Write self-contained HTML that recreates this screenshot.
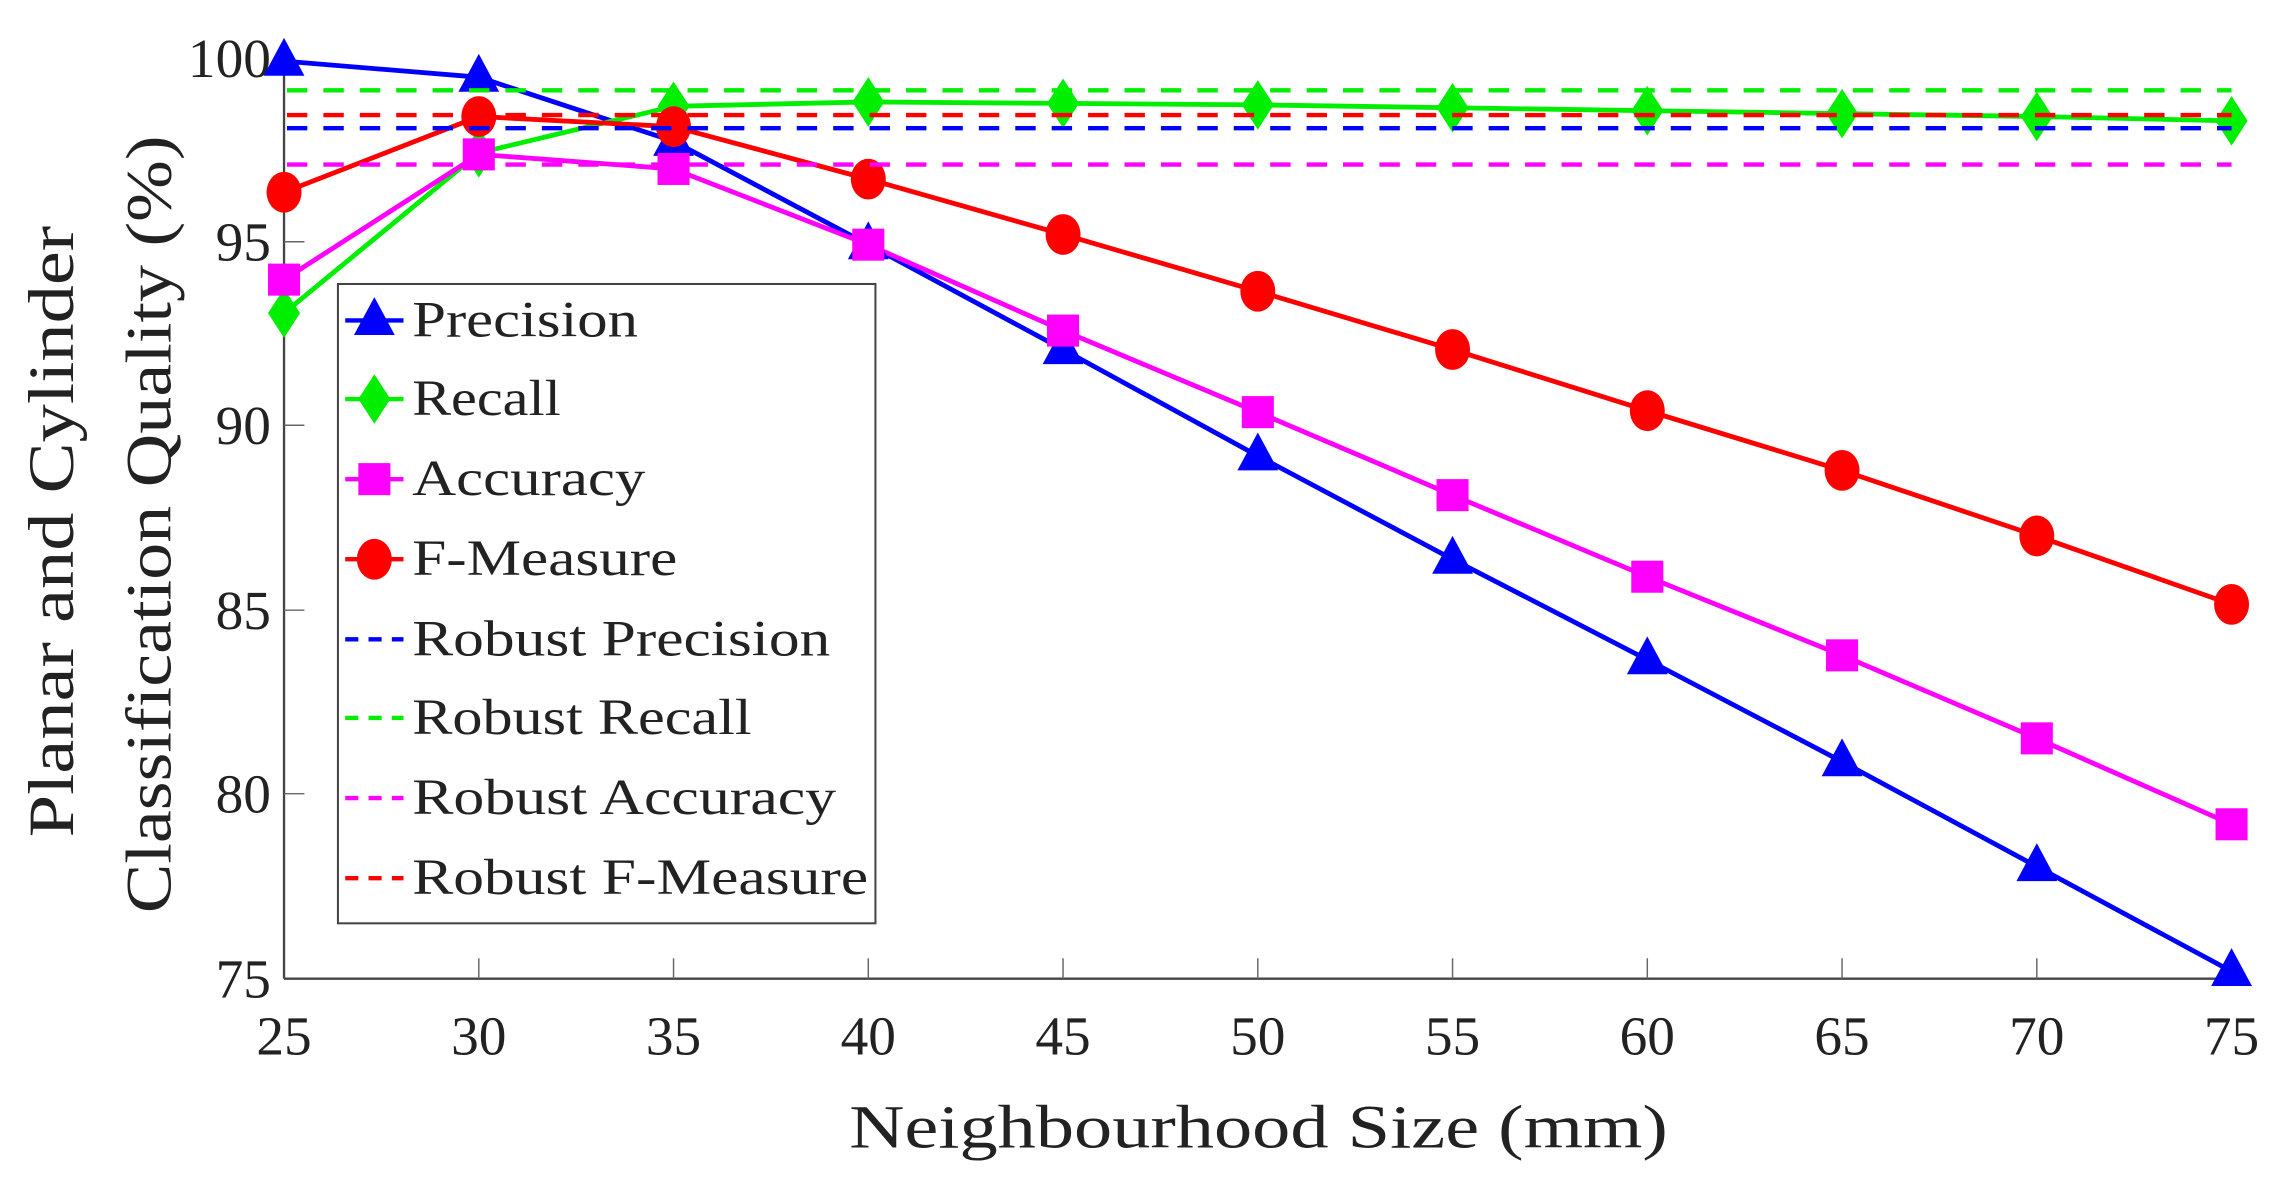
<!DOCTYPE html>
<html><head><meta charset="utf-8"><style>
html,body{margin:0;padding:0;background:#fff;}
svg{display:block;}
text{font-family:"Liberation Serif",serif;fill:#222;}
</style></head><body>
<svg width="2284" height="1184" viewBox="0 0 1568 813" preserveAspectRatio="none" xmlns="http://www.w3.org/2000/svg">
<defs>
<polygon id="tri" points="0,-16 14,10 -14,10" fill="#0000ff"/>
<polygon id="dia" points="0,-17 11,0 0,17 -11,0" fill="#00ee00"/>
<rect id="sq" x="-11" y="-11" width="22" height="22" fill="#ff00ff"/>
<ellipse id="cir" rx="12" ry="14" fill="#ff0000"/>
</defs>
<g stroke="#444" stroke-width="1.6" fill="none">
<line x1="195" y1="40" x2="195" y2="672"/>
<line x1="195" y1="672" x2="1532" y2="672"/>
</g>
<g stroke="#666" stroke-width="1">
<line x1="195" y1="166" x2="209" y2="166"/>
<line x1="195" y1="292" x2="209" y2="292"/>
<line x1="195" y1="419" x2="209" y2="419"/>
<line x1="195" y1="545" x2="209" y2="545"/>
<line x1="328.7" y1="672" x2="328.7" y2="658"/>
<line x1="462.4" y1="672" x2="462.4" y2="658"/>
<line x1="596.1" y1="672" x2="596.1" y2="658"/>
<line x1="729.8" y1="672" x2="729.8" y2="658"/>
<line x1="863.5" y1="672" x2="863.5" y2="658"/>
<line x1="997.2" y1="672" x2="997.2" y2="658"/>
<line x1="1130.9" y1="672" x2="1130.9" y2="658"/>
<line x1="1264.6" y1="672" x2="1264.6" y2="658"/>
<line x1="1398.3" y1="672" x2="1398.3" y2="658"/>
</g>
<g font-size="38" text-anchor="end">
<text x="186" y="53">100</text>
<text x="186" y="179">95</text>
<text x="186" y="305">90</text>
<text x="186" y="432">85</text>
<text x="186" y="558">80</text>
<text x="186" y="685">75</text>
</g>
<g font-size="38" text-anchor="middle">
<text x="195" y="724">25</text>
<text x="328.7" y="724">30</text>
<text x="462.4" y="724">35</text>
<text x="596.1" y="724">40</text>
<text x="729.8" y="724">45</text>
<text x="863.5" y="724">50</text>
<text x="997.2" y="724">55</text>
<text x="1130.9" y="724">60</text>
<text x="1264.6" y="724">65</text>
<text x="1398.3" y="724">70</text>
<text x="1532" y="724">75</text>
</g>
<text x="583" y="788" font-size="42" textLength="562" lengthAdjust="spacingAndGlyphs">Neighbourhood Size (mm)</text>
<text transform="translate(50,575) rotate(-90)" font-size="44" textLength="420" lengthAdjust="spacingAndGlyphs">Planar and Cylinder</text>
<text transform="translate(117,627) rotate(-90)" font-size="44" textLength="534" lengthAdjust="spacingAndGlyphs">Classification Quality (%)</text>

<g fill="none" stroke-width="3.3" stroke-linejoin="round">
<polyline stroke="#0000ff" points="195,42 328.7,53 462.4,97 596.1,168 729.8,240 863.5,313 997.2,384 1130.9,453 1264.6,523 1398.3,595 1532,667"/>
<polyline stroke="#00ee00" points="195,215 328.7,105 462.4,73 596.1,70 729.8,71 863.5,72 997.2,74 1130.9,76 1264.6,78 1398.3,80 1532,83"/>
<polyline stroke="#ff00ff" points="195,192 328.7,106 462.4,116 596.1,168 729.8,227 863.5,283 997.2,340 1130.9,396 1264.6,450 1398.3,507 1532,566"/>
<polyline stroke="#ff0000" points="195,132 328.7,80 462.4,87 596.1,123 729.8,161 863.5,200 997.2,240 1130.9,282 1264.6,323 1398.3,368 1532,415"/>
</g>
<g>
<use href="#tri" x="195" y="42"/><use href="#tri" x="328.7" y="53"/><use href="#tri" x="462.4" y="97"/><use href="#tri" x="596.1" y="168"/><use href="#tri" x="729.8" y="240"/><use href="#tri" x="863.5" y="313"/><use href="#tri" x="997.2" y="384"/><use href="#tri" x="1130.9" y="453"/><use href="#tri" x="1264.6" y="523"/><use href="#tri" x="1398.3" y="595"/><use href="#tri" x="1532" y="667"/>
<use href="#dia" x="195" y="215"/><use href="#dia" x="328.7" y="105"/><use href="#dia" x="462.4" y="73"/><use href="#dia" x="596.1" y="70"/><use href="#dia" x="729.8" y="71"/><use href="#dia" x="863.5" y="72"/><use href="#dia" x="997.2" y="74"/><use href="#dia" x="1130.9" y="76"/><use href="#dia" x="1264.6" y="78"/><use href="#dia" x="1398.3" y="80"/><use href="#dia" x="1532" y="83"/>
<use href="#sq" x="195" y="192"/><use href="#sq" x="328.7" y="106"/><use href="#sq" x="462.4" y="116"/><use href="#sq" x="596.1" y="168"/><use href="#sq" x="729.8" y="227"/><use href="#sq" x="863.5" y="283"/><use href="#sq" x="997.2" y="340"/><use href="#sq" x="1130.9" y="396"/><use href="#sq" x="1264.6" y="450"/><use href="#sq" x="1398.3" y="507"/><use href="#sq" x="1532" y="566"/>
<use href="#cir" x="195" y="132"/><use href="#cir" x="328.7" y="80"/><use href="#cir" x="462.4" y="87"/><use href="#cir" x="596.1" y="123"/><use href="#cir" x="729.8" y="161"/><use href="#cir" x="863.5" y="200"/><use href="#cir" x="997.2" y="240"/><use href="#cir" x="1130.9" y="282"/><use href="#cir" x="1264.6" y="323"/><use href="#cir" x="1398.3" y="368"/><use href="#cir" x="1532" y="415"/>
</g>
<g stroke-width="3" stroke-dasharray="14,11">
<line x1="197" y1="62" x2="1532" y2="62" stroke="#00ee00"/>
<line x1="197" y1="79" x2="1532" y2="79" stroke="#ff0000"/>
<line x1="197" y1="88" x2="1532" y2="88" stroke="#0000ff"/>
<line x1="197" y1="113" x2="1532" y2="113" stroke="#ff00ff"/>
</g>
<rect x="232" y="195" width="369" height="439" fill="#fff" stroke="#444" stroke-width="1.4"/>
<g stroke-width="3">
<line x1="237" y1="220" x2="277" y2="220" stroke="#0000ff"/>
<line x1="237" y1="274" x2="277" y2="274" stroke="#00ee00"/>
<line x1="237" y1="329" x2="277" y2="329" stroke="#ff00ff"/>
<line x1="237" y1="384" x2="277" y2="384" stroke="#ff0000"/>
</g>
<use href="#tri" x="257" y="220"/>
<use href="#dia" x="257" y="274"/>
<use href="#sq" x="257" y="329"/>
<use href="#cir" x="257" y="384"/>
<g stroke-width="3" stroke-dasharray="9,7">
<line x1="237" y1="439" x2="277" y2="439" stroke="#0000ff"/>
<line x1="237" y1="493" x2="277" y2="493" stroke="#00ee00"/>
<line x1="237" y1="548" x2="277" y2="548" stroke="#ff00ff"/>
<line x1="237" y1="603" x2="277" y2="603" stroke="#ff0000"/>
</g>
<g font-size="35">
<text x="283" y="231" textLength="155" lengthAdjust="spacingAndGlyphs">Precision</text>
<text x="283" y="285" textLength="102" lengthAdjust="spacingAndGlyphs">Recall</text>
<text x="283" y="340" textLength="160" lengthAdjust="spacingAndGlyphs">Accuracy</text>
<text x="283" y="395" textLength="182" lengthAdjust="spacingAndGlyphs">F-Measure</text>
<text x="283" y="450" textLength="287" lengthAdjust="spacingAndGlyphs">Robust Precision</text>
<text x="283" y="504" textLength="233" lengthAdjust="spacingAndGlyphs">Robust Recall</text>
<text x="283" y="559" textLength="291" lengthAdjust="spacingAndGlyphs">Robust Accuracy</text>
<text x="283" y="614" textLength="313" lengthAdjust="spacingAndGlyphs">Robust F-Measure</text>
</g>
</svg>
</body></html>
